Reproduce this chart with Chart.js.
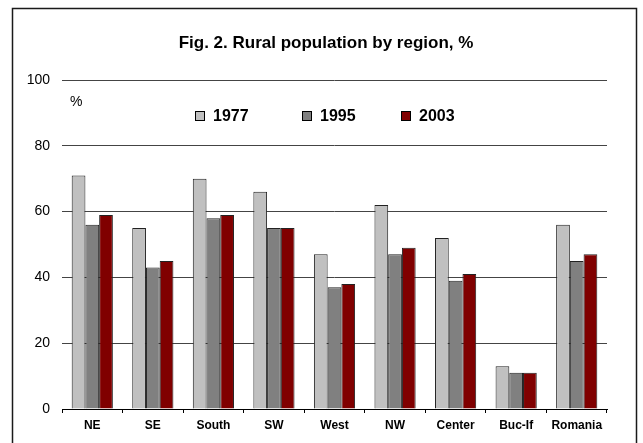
<!DOCTYPE html>
<html>
<head>
<meta charset="utf-8">
<script src="https://cdn.jsdelivr.net/npm/chart.js@4"></script>
<style>
  body { margin: 0; background: #fff; }
  #wrap { position: relative; width: 643px; height: 443px; }
</style>
</head>
<body>
<div id="wrap"><canvas id="chart" width="643" height="443"></canvas></div>
<script>
// Rural population by region, %
const regions = ["NE", "SE", "South", "SW", "West", "NW", "Center", "Buc-If", "Romania"]
const years = ["1977", "1995", "2003"]
const values1977 = [71, 55, 70, 66, 47, 62, 52, 13, 56]
const values1995 = [56, 43, 58, 55, 37, 47, 39, 11, 45]
const values2003 = [59, 45, 59, 55, 38, 49, 41, 11, 47]
const yTicks = [0, 20, 40, 60, 80, 100]

const colors = ["#C0C0C0", "#808080", "#800000"]
const font = "'Liberation Sans', Arial, sans-serif"

// frame, title, % label and the in-plot legend
const decorPlugin = {
  id: "decor",
  afterDraw(chart) {
    const ctx = chart.ctx
    ctx.save()
    ctx.strokeStyle = "#1a1a1a"
    ctx.lineWidth = 1.5
    ctx.strokeRect(12.5, 8.5, 624, 460)

    ctx.fillStyle = "#000"
    ctx.textBaseline = "middle"
    ctx.textAlign = "center"
    ctx.font = "bold 17px " + font
    ctx.fillText("Fig. 2. Rural population by region, %", 326, 43)

    ctx.textAlign = "left"
    ctx.font = "14px " + font
    ctx.fillText("%", 70, 102)

    const boxX = [195, 302, 401]
    ctx.font = "bold 16px " + font
    chart.data.datasets.forEach((ds, i) => {
      ctx.fillStyle = ds.backgroundColor
      ctx.fillRect(boxX[i], 111, 10, 10)
      ctx.strokeStyle = "#000"
      ctx.lineWidth = 1
      ctx.strokeRect(boxX[i] + 0.5, 111.5, 9, 9)
      ctx.fillStyle = "#000"
      ctx.fillText(ds.label, boxX[i] + 18, 117)
    })
    ctx.restore()
  },
}

const ctx = document.getElementById("chart").getContext("2d")
new Chart(ctx, {
  type: "bar",
  data: {
    labels: regions,
    datasets: [
      { label: years[0], data: values1977, backgroundColor: colors[0] },
      { label: years[1], data: values1995, backgroundColor: colors[1] },
      { label: years[2], data: values2003, backgroundColor: colors[2] },
    ].map((d) => Object.assign(d, { borderColor: "#222", borderWidth: 1, categoryPercentage: 0.68, barPercentage: 1.0 })),
  },
  options: {
    responsive: false,
    animation: false,
    layout: { padding: { left: 0, top: 80, right: 36, bottom: 0 } },
    plugins: {
      legend: { display: false },
      title: { display: false },
      tooltip: { enabled: false },
    },
    scales: {
      x: {
        afterFit: (scale) => { scale.height = 34 },
        grid: { offset: true, drawOnChartArea: false, drawTicks: true, tickLength: 4, color: "#000" },
        border: { display: true, color: "#000", width: 1 },
        ticks: { color: "#000", font: { family: font, size: 12, weight: "bold" }, padding: 5, maxRotation: 0 },
      },
      y: {
        min: 0,
        max: 100,
        afterFit: (scale) => { scale.width = 62 },
        afterBuildTicks: (scale) => { scale.ticks = yTicks.map((v) => ({ value: v })) },
        grid: { color: "#444", lineWidth: 1, drawTicks: false },
        border: { display: false },
        ticks: { color: "#000", font: { family: font, size: 14 }, padding: 12 },
      },
    },
  },
  plugins: [decorPlugin],
})
</script>
</body>
</html>
